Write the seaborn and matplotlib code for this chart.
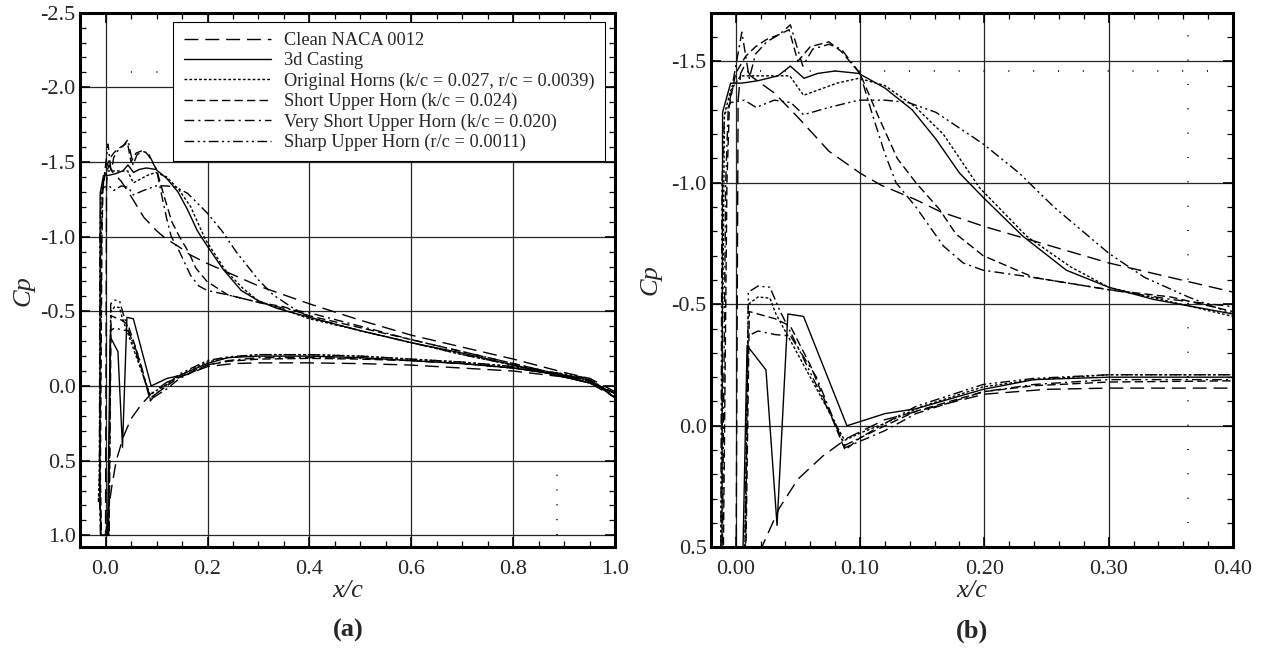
import numpy as np
import pandas as pd
import matplotlib
matplotlib.use("Agg")
import matplotlib.pyplot as plt
from matplotlib.ticker import MultipleLocator, FormatStrFormatter
import seaborn as sns

# legend labels (order as in the legend)
series_names = [
    "Clean NACA 0012",
    "3d Casting",
    "Original Horns (k/c = 0.027, r/c = 0.0039)",
    "Short Upper Horn (k/c = 0.024)",
    "Very Short Upper Horn (k/c = 0.020)",
    "Sharp Upper Horn (r/c = 0.0011)",
]

# upper surface, leading edge -> trailing edge
clean_up_x = [0.002, 0.004, 0.007, 0.012, 0.02, 0.031, 0.05, 0.075, 0.10, 0.117, 0.145, 0.165,
              0.20, 0.24, 0.30, 0.40, 0.50, 0.60, 0.70, 0.80, 0.90, 0.95, 1.0]
clean_up_cp = [-1.34, -1.45, -1.48, -1.44, -1.41, -1.37, -1.27, -1.13, -1.04, -0.99, -0.93, -0.88,
               -0.82, -0.76, -0.67, -0.55, -0.44, -0.34, -0.26, -0.18, -0.09, -0.05, 0.04]

cast_up_x = [-0.0105, -0.004, 0.005, 0.018, 0.034, 0.044, 0.055, 0.066, 0.08, 0.099, 0.12, 0.142,
             0.161, 0.18, 0.199, 0.231, 0.266, 0.30, 0.336, 0.40, 0.50, 0.60, 0.70, 0.80, 0.90,
             0.95, 1.0]
cast_up_cp = [-1.29, -1.41, -1.41, -1.42, -1.44, -1.48, -1.43, -1.45, -1.46, -1.45, -1.39, -1.30,
              -1.18, -1.04, -0.94, -0.78, -0.64, -0.57, -0.52, -0.46, -0.37, -0.29, -0.22, -0.14,
              -0.06, -0.02, 0.05]

orig_up_x = [-0.009, -0.004, 0.004, 0.018, 0.0435, 0.0546, 0.0816, 0.099, 0.12, 0.145, 0.167,
             0.196, 0.234, 0.269, 0.30, 0.40, 0.50, 0.60, 0.70, 0.80, 0.90, 0.95, 1.0]
orig_up_cp = [-1.28, -1.38, -1.44, -1.44, -1.44, -1.36, -1.41, -1.43, -1.40, -1.31, -1.20,
              -0.98, -0.78, -0.655, -0.57, -0.45, -0.37, -0.29, -0.21, -0.14, -0.06, -0.02, 0.05]

short_up_x = [-0.007, -0.005, 0.0, 0.008, 0.016, 0.025, 0.035, 0.043, 0.05, 0.06, 0.075, 0.085,
              0.10, 0.115, 0.13, 0.145, 0.164, 0.177, 0.199, 0.24, 0.30, 0.35, 0.40, 0.50, 0.60,
              0.70, 0.80, 0.90, 0.95, 1.0]
short_up_cp = [-1.0, -1.32, -1.45, -1.52, -1.56, -1.59, -1.61, -1.63, -1.50, -1.56, -1.58, -1.54,
               -1.45, -1.27, -1.10, -1.0, -0.89, -0.79, -0.70, -0.61, -0.56, -0.53, -0.47, -0.39,
               -0.31, -0.23, -0.15, -0.07, -0.03, 0.05]

vshort_up_x = [-0.008, -0.006, -0.002, 0.005, 0.011, 0.016, 0.025, 0.035, 0.044, 0.054, 0.062,
               0.075, 0.085, 0.10, 0.11, 0.12, 0.129, 0.145, 0.167, 0.183, 0.199, 0.24, 0.30,
               0.35, 0.40, 0.50, 0.60, 0.70, 0.80, 0.90, 0.95, 1.0]
vshort_up_cp = [-1.0, -1.30, -1.42, -1.62, -1.43, -1.53, -1.58, -1.61, -1.65, -1.48, -1.55, -1.57,
                -1.55, -1.45, -1.28, -1.12, -1.0, -0.90, -0.74, -0.67, -0.64, -0.61, -0.56, -0.52,
                -0.49, -0.40, -0.31, -0.23, -0.15, -0.07, -0.03, 0.05]

sharp_up_x = [-0.011, -0.009, -0.004, 0.007, 0.0165, 0.031, 0.0444, 0.0546, 0.075, 0.099, 0.12,
              0.139, 0.161, 0.199, 0.228, 0.256, 0.30, 0.329, 0.364, 0.40, 0.50, 0.60, 0.70,
              0.80, 0.90, 0.95, 1.0]
sharp_up_cp = [-1.0, -1.28, -1.33, -1.34, -1.31, -1.34, -1.33, -1.28, -1.31, -1.34, -1.34, -1.33,
               -1.29, -1.16, -1.04, -0.90, -0.71, -0.61, -0.53, -0.46, -0.37, -0.29, -0.21, -0.14,
               -0.06, -0.02, 0.05]

# lower surface, stagnation -> trailing edge
clean_lo_x = [0.0, 0.005, 0.012, 0.021, 0.035, 0.05, 0.07, 0.09, 0.12, 0.165, 0.20, 0.25, 0.30,
              0.40, 0.50, 0.60, 0.70, 0.80, 0.90, 0.95, 1.0]
clean_lo_cp = [1.0, 0.85, 0.68, 0.50, 0.34, 0.22, 0.125, 0.05, -0.025, -0.085, -0.13, -0.15,
               -0.155, -0.155, -0.15, -0.14, -0.12, -0.10, -0.06, -0.02, 0.08]

cast_lo_x = [-0.011, -0.009, 0.004, 0.0092, 0.0244, 0.0333, 0.042, 0.0546, 0.0895, 0.12, 0.145,
             0.199, 0.24, 0.30, 0.40, 0.50, 0.60, 0.70, 0.80, 0.90, 0.95, 1.0]
cast_lo_cp = [0.7, 1.0, 1.0, -0.33, -0.23, 0.41, -0.46, -0.45, 0.0, -0.05, -0.07, -0.15, -0.19,
              -0.20, -0.20, -0.19, -0.17, -0.15, -0.12, -0.07, -0.04, 0.08]

orig_lo_x = [-0.012, -0.014, -0.011, -0.009, 0.006, 0.0102, 0.018, 0.0276, 0.0324, 0.06, 0.0876,
             0.10, 0.12, 0.15, 0.199, 0.24, 0.30, 0.40, 0.50, 0.60, 0.70, 0.80, 0.90, 0.95, 1.0]
orig_lo_cp = [0.55, 0.78, 0.7, 1.0, 1.0, -0.50, -0.53, -0.525, -0.46, -0.2, 0.06, 0.03, -0.01,
              -0.08, -0.16, -0.19, -0.21, -0.21, -0.20, -0.18, -0.16, -0.13, -0.08, -0.05, 0.08]

short_lo_x = [-0.01, -0.008, 0.007, 0.011, 0.018, 0.032, 0.044, 0.06, 0.088, 0.10, 0.12, 0.145,
              0.199, 0.24, 0.30, 0.40, 0.50, 0.60, 0.70, 0.80, 0.90, 0.95, 1.0]
short_lo_cp = [0.6, 1.0, 1.0, -0.47, -0.46, -0.44, -0.41, -0.25, 0.1, 0.05, 0.0, -0.06, -0.14,
               -0.165, -0.18, -0.185, -0.18, -0.17, -0.15, -0.12, -0.07, -0.04, 0.08]

vshort_lo_x = [-0.011, -0.009, 0.006, 0.010, 0.018, 0.032, 0.044, 0.065, 0.088, 0.12, 0.145,
               0.199, 0.24, 0.30, 0.40, 0.50, 0.60, 0.70, 0.80, 0.90, 0.95, 1.0]
vshort_lo_cp = [0.7, 1.0, 1.0, -0.37, -0.39, -0.375, -0.37, -0.2, 0.09, 0.02, -0.05, -0.14,
                -0.17, -0.19, -0.19, -0.185, -0.17, -0.15, -0.12, -0.07, -0.04, 0.08]

sharp_lo_x = [-0.012, -0.01, 0.007, 0.0102, 0.018, 0.0276, 0.035, 0.06, 0.088, 0.10, 0.12, 0.145,
              0.199, 0.24, 0.30, 0.40, 0.50, 0.60, 0.70, 0.80, 0.90, 0.95, 1.0]
sharp_lo_cp = [0.65, 1.0, 1.0, -0.55, -0.575, -0.57, -0.48, -0.22, 0.08, 0.05, -0.01, -0.08,
               -0.17, -0.195, -0.21, -0.21, -0.20, -0.18, -0.16, -0.13, -0.08, -0.05, 0.08]

upper = [(clean_up_x, clean_up_cp), (cast_up_x, cast_up_cp), (orig_up_x, orig_up_cp),
         (short_up_x, short_up_cp), (vshort_up_x, vshort_up_cp), (sharp_up_x, sharp_up_cp)]
lower = [(clean_lo_x, clean_lo_cp), (cast_lo_x, cast_lo_cp), (orig_lo_x, orig_lo_cp),
         (short_lo_x, short_lo_cp), (vshort_lo_x, vshort_lo_cp), (sharp_lo_x, sharp_lo_cp)]

# one continuous line per case: TE upper -> LE -> TE lower
frames = []
for name, (ux, ucp), (lx, lcp) in zip(series_names, upper, lower):
    frames.append(pd.DataFrame({
        "x": list(ux[::-1]) + list(lx),
        "cp": list(ucp[::-1]) + list(lcp),
        "series": name,
    }))
df = pd.concat(frames, ignore_index=True)

dash_styles = {
    series_names[0]: (10, 5),
    series_names[1]: "",
    series_names[2]: (2, 1.5),
    series_names[3]: (6, 3),
    series_names[4]: (7, 3, 1.5, 3),
    series_names[5]: (7, 2.5, 1.5, 2.5, 1.5, 2.5),
}
palette = {n: "black" for n in series_names}

sns.set_style("ticks")
plt.rcParams["font.family"] = ["Liberation Serif", "DejaVu Serif"]
plt.rcParams["axes.unicode_minus"] = False

fig = plt.figure(figsize=(12.62, 6.53), dpi=100)
ax_a = fig.add_axes([0.0634, 0.1619, 0.4243, 0.8187])
ax_b = fig.add_axes([0.5632, 0.1619, 0.4139, 0.8187])

for ax in (ax_a, ax_b):
    sns.lineplot(data=df, x="x", y="cp", hue="series", style="series", palette=palette,
                 dashes=dash_styles, sort=False, estimator=None, linewidth=1.0, ax=ax,
                 legend=(ax is ax_a))

# axis settings
ax_a.set_xlim(-0.05, 1.0)
ax_a.set_ylim(1.08, -2.5)
ax_a.xaxis.set_major_locator(MultipleLocator(0.2))
ax_a.xaxis.set_minor_locator(MultipleLocator(0.05))
ax_a.xaxis.set_major_formatter(FormatStrFormatter("%.1f"))
ax_a.yaxis.set_major_locator(MultipleLocator(0.5))
ax_a.yaxis.set_minor_locator(MultipleLocator(0.1))
ax_a.yaxis.set_major_formatter(FormatStrFormatter("%.1f"))

ax_b.set_xlim(-0.02, 0.40)
ax_b.set_ylim(0.5, -1.7)
ax_b.xaxis.set_major_locator(MultipleLocator(0.1))
ax_b.xaxis.set_minor_locator(MultipleLocator(0.02))
ax_b.xaxis.set_major_formatter(FormatStrFormatter("%.2f"))
ax_b.yaxis.set_major_locator(MultipleLocator(0.5))
ax_b.yaxis.set_minor_locator(MultipleLocator(0.1))
ax_b.yaxis.set_major_formatter(FormatStrFormatter("%.1f"))

for ax in (ax_a, ax_b):
    ax.grid(which="major", color="0.15", linewidth=0.9)
    for sp in ax.spines.values():
        sp.set_linewidth(2.2)
        sp.set_color("black")
    ax.tick_params(which="both", direction="in", top=True, right=True, color="black",
                   labelsize=16)
    ax.tick_params(which="major", length=7, width=1.2)
    ax.tick_params(which="minor", length=4, width=0.9)
    ax.tick_params(axis="x", pad=9)
    ax.tick_params(axis="y", pad=3)
    ax.set_xlabel("x/c", fontsize=19, fontstyle="italic", va="center")
    ax.set_ylabel("Cp", fontsize=19, fontstyle="italic", va="center")
    ax.xaxis.set_label_coords(0.5, -0.082)

ax_a.yaxis.set_label_coords(-0.106, 0.481)
ax_b.yaxis.set_label_coords(-0.116, 0.5)

# stray dotted marks from the original plot
ax_a.axhline(-2.1, xmin=0.0952, xmax=0.148, color="k", lw=1.2, dashes=(0.6, 14.7))
ax_a.axvline(0.885, ymin=0.0223, ymax=0.148, color="k", lw=1.2, dashes=(0.6, 8.3))
ax_b.axhline(-1.46, xmin=0.0952, xmax=0.97, color="k", lw=1.2, dashes=(0.6, 14.3))
ax_b.axvline(0.364, ymin=0.0455, ymax=0.96, color="k", lw=1.2, dashes=(0.6, 14.0))

# legend
old = ax_a.get_legend()
handles = old.legend_handles
labels = [t.get_text() for t in old.get_texts()]
old.remove()
leg = ax_a.legend(handles, labels, loc="upper right", bbox_to_anchor=(0.980, 0.983),
                  borderaxespad=0, fontsize=13.2, handlelength=4.75, handletextpad=0.7,
                  labelspacing=0.17, borderpad=0.57, frameon=True, fancybox=False,
                  edgecolor="black", framealpha=1)
leg.get_frame().set_linewidth(0.8)

fig.text(0.2757, 0.034, "(a)", fontsize=19, fontweight="bold", ha="center", va="center")
fig.text(0.770, 0.034, "(b)", fontsize=19, fontweight="bold", ha="center", va="center")

fig.savefig("out.png", dpi=100)
